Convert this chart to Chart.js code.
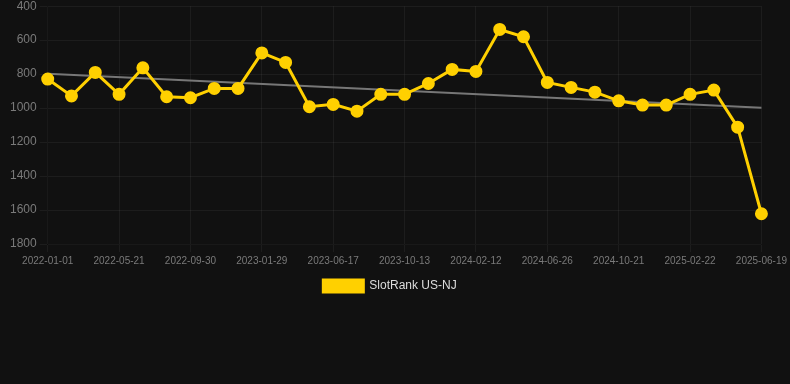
<!DOCTYPE html>
<html>
<head>
<meta charset="utf-8">
<script src="https://cdn.jsdelivr.net/npm/chart.js@4/dist/chart.umd.min.js"></script>
<style>
  html, body { margin: 0; padding: 0; background: #111111; overflow: hidden; }
  .chart-box { position: relative; width: 790px; height: 306px; margin-top: -4px; }
</style>
</head>
<body>
<div class="chart-box"><canvas id="rankChart"></canvas></div>
<script>
// Dates on the x axis (every third one is shown, the rest are estimated)
const dates = [
  '2022-01-01', '2022-02-16', '2022-04-04',
  '2022-05-21', '2022-07-04', '2022-08-17',
  '2022-09-30', '2022-11-09', '2022-12-20',
  '2023-01-29', '2023-03-16', '2023-05-02',
  '2023-06-17', '2023-07-27', '2023-09-04',
  '2023-10-13', '2023-11-27', '2023-12-29',
  '2024-02-12', '2024-03-28', '2024-05-12',
  '2024-06-26', '2024-08-08', '2024-09-15',
  '2024-10-21', '2024-12-04', '2025-01-12',
  '2025-02-22', '2025-04-03', '2025-05-11',
  '2025-06-19'
];

// SlotRank values (lower is better, axis is reversed)
const slotRank = [
  829, 928, 790, 919, 763, 933, 939, 884, 884, 675,
  731, 992, 978, 1018, 919, 919, 855, 772, 784, 537,
  580, 849, 878, 906, 957, 982, 982, 919, 894, 1112,
  1622
];

// Trend line end points
const trendStart = 798;
const trendEnd = 998;

const yTicks = { min: 400, max: 1800, step: 200 };

const trendData = dates.map((d, i) => {
  if (i === 0) return trendStart;
  if (i === dates.length - 1) return trendEnd;
  return null;
});

const gridColor = 'rgba(255,255,255,0.05)';
const fontFamily = 'Liberation Sans, Arial, sans-serif';

const ctx = document.getElementById('rankChart');

new Chart(ctx, {
  type: 'line',
  data: {
    labels: dates,
    datasets: [
      {
        label: 'SlotRank US-NJ',
        data: slotRank,
        borderColor: '#FFD000',
        backgroundColor: '#FFD000',
        borderWidth: 3,
        pointRadius: 5,
        pointHoverRadius: 6,
        pointBackgroundColor: '#FFD000',
        pointBorderColor: '#FFD000',
        tension: 0
      },
      {
        label: 'trend',
        data: trendData,
        borderColor: '#777777',
        borderWidth: 2,
        pointRadius: 0,
        spanGaps: true,
        fill: false
      }
    ]
  },
  options: {
    responsive: true,
    maintainAspectRatio: false,
    animation: false,
    layout: {
      padding: { top: 0, right: 17, bottom: 0, left: 7 }
    },
    scales: {
      x: {
        grid: {
          color: (c) => (c.index % 3 === 0 ? gridColor : 'transparent')
        },
        ticks: {
          color: '#7a7a7a',
          font: { family: fontFamily, size: 10 },
          autoSkip: false,
          maxRotation: 0,
          callback: function (value, index) {
            return index % 3 === 0 ? this.getLabelForValue(value) : '';
          }
        }
      },
      y: {
        reverse: true,
        min: yTicks.min,
        max: yTicks.max,
        grid: { color: gridColor },
        ticks: {
          stepSize: yTicks.step,
          color: '#7a7a7a',
          font: { family: fontFamily, size: 12 },
          callback: (v) => String(v)
        }
      }
    },
    plugins: {
      legend: {
        position: 'bottom',
        labels: {
          color: '#dddddd',
          boxWidth: 40,
          boxHeight: 12,
          font: { family: fontFamily, size: 12 },
          filter: (item) => item.datasetIndex === 0
        }
      },
      tooltip: { enabled: false }
    }
  }
});
</script>
</body>
</html>
